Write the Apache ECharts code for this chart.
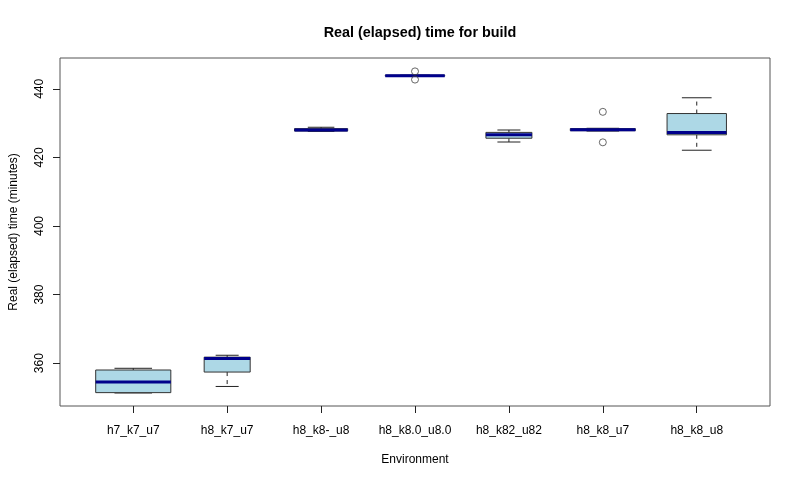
<!DOCTYPE html>
<html>
<head>
<meta charset="utf-8">
<script src="https://cdn.jsdelivr.net/npm/echarts@6/dist/echarts.min.js"></script>
<style>html,body{margin:0;padding:0;background:#fff;}#c{width:800px;height:480px;}</style>
</head>
<body>
<div id="c"></div>
<script>
const categories = ['h7_k7_u7','h8_k7_u7','h8_k8-_u8','h8_k8.0_u8.0','h8_k82_u82','h8_k8_u7','h8_k8_u8'];
const lowWhisker  = [351.3, 353.2, 427.6, 443.7, 424.5, 427.7, 422.1];
const lowerQuart  = [351.4, 357.4, 427.7, 443.7, 425.6, 427.8, 426.6];
const medians     = [354.5, 361.35, 428.0, 443.85, 426.6, 428.1, 427.3];
const upperQuart  = [358.0, 361.75, 428.4, 444.0, 427.3, 428.4, 432.8];
const highWhisker = [358.5, 362.3, 428.8, 444.0, 428.0, 428.5, 437.4];
const sampleSizes = [8, 3, 4, 5, 3, 6, 5];
const outlierGroup = [4, 4, 6, 6];
const outlierValue = [445.1, 442.7, 433.3, 424.4];
const yTicks = [360, 380, 400, 420, 440];
const xTicks = [1, 2, 3, 4, 5, 6, 7];

const maxN = Math.max.apply(null, sampleSizes);
const boxData = categories.map((c, i) => [i + 1, lowWhisker[i], lowerQuart[i], medians[i], upperQuart[i], highWhisker[i], sampleSizes[i]]);
const outData = outlierGroup.map((g, i) => [g, outlierValue[i]]);

function renderBox(params, api) {
  const x = api.value(0);
  const unit = api.size([1, 0])[0];
  const w = unit * 0.8 * Math.sqrt(api.value(6) / maxN);
  const cx = api.coord([x, 0])[0];
  const yLo = api.coord([x, api.value(1)])[1];
  const yQ1 = api.coord([x, api.value(2)])[1];
  const yMed = api.coord([x, api.value(3)])[1];
  const yQ3 = api.coord([x, api.value(4)])[1];
  const yHi = api.coord([x, api.value(5)])[1];
  const lineStyle = { stroke: '#222', lineWidth: 1, fill: null };
  return {
    type: 'group',
    children: [
      { type: 'line', shape: { x1: cx, y1: yQ3, x2: cx, y2: yHi }, style: Object.assign({}, lineStyle, { lineDash: [4, 4] }) },
      { type: 'line', shape: { x1: cx, y1: yQ1, x2: cx, y2: yLo }, style: Object.assign({}, lineStyle, { lineDash: [4, 4] }) },
      { type: 'line', shape: { x1: cx - w / 4, y1: yHi, x2: cx + w / 4, y2: yHi }, style: lineStyle },
      { type: 'line', shape: { x1: cx - w / 4, y1: yLo, x2: cx + w / 4, y2: yLo }, style: lineStyle },
      { type: 'rect', shape: { x: cx - w / 2, y: yQ3, width: w, height: Math.max(yQ1 - yQ3, 0.5) }, style: { fill: '#ADD8E6', stroke: '#333', lineWidth: 1 } },
      { type: 'line', shape: { x1: cx - w / 2, y1: yMed, x2: cx + w / 2, y2: yMed }, style: { stroke: '#00008B', lineWidth: 3 } }
    ]
  };
}

const chart = echarts.init(document.getElementById('c'), null, { renderer: 'canvas' });
chart.setOption({
  animation: false,
  backgroundColor: '#fff',
  textStyle: { fontFamily: 'Liberation Sans, Arial, sans-serif' },
  title: {
    text: 'Real (elapsed) time for build',
    left: 415, top: 21, textAlign: 'center',
    textStyle: { fontSize: 14.4, fontWeight: 'bold', color: '#000', fontFamily: 'Liberation Sans, Arial, sans-serif' }
  },
  grid: { left: 60, right: 30, top: 58, bottom: 74, show: true, borderColor: '#555', borderWidth: 1, backgroundColor: 'transparent', containLabel: false, outerBoundsMode: 'none' },
  xAxis: {
    type: 'value', min: 0.22, max: 7.78,
    name: 'Environment', nameLocation: 'middle', nameGap: 48,
    nameTextStyle: { fontSize: 12, color: '#000' },
    axisLine: { show: false },
    splitLine: { show: false },
    axisTick: { show: true, length: 7, lineStyle: { color: '#222' }, customValues: xTicks },
    axisLabel: { fontSize: 12, color: '#000', margin: 19, customValues: xTicks, formatter: v => categories[Math.round(v) - 1] }
  },
  yAxis: {
    type: 'value', min: 347.5, max: 449.0,
    name: 'Real (elapsed) time (minutes)', nameLocation: 'middle', nameGap: 40, nameRotate: 90,
    nameTextStyle: { fontSize: 12, color: '#000' },
    axisLine: { show: false },
    splitLine: { show: false },
    axisTick: { show: true, length: 7, lineStyle: { color: '#222' }, customValues: yTicks },
    axisLabel: { fontSize: 12, color: '#000', margin: 14, rotate: 90, customValues: yTicks }
  },
  series: [
    { type: 'custom', renderItem: renderBox, data: boxData, encode: { x: 0, y: [1, 2, 3, 4, 5] }, clip: false },
    { type: 'scatter', data: outData, symbol: 'circle', symbolSize: 7, itemStyle: { color: 'rgba(0,0,0,0)', borderColor: '#444', borderWidth: 1 } }
  ]
});
</script>
</body>
</html>
